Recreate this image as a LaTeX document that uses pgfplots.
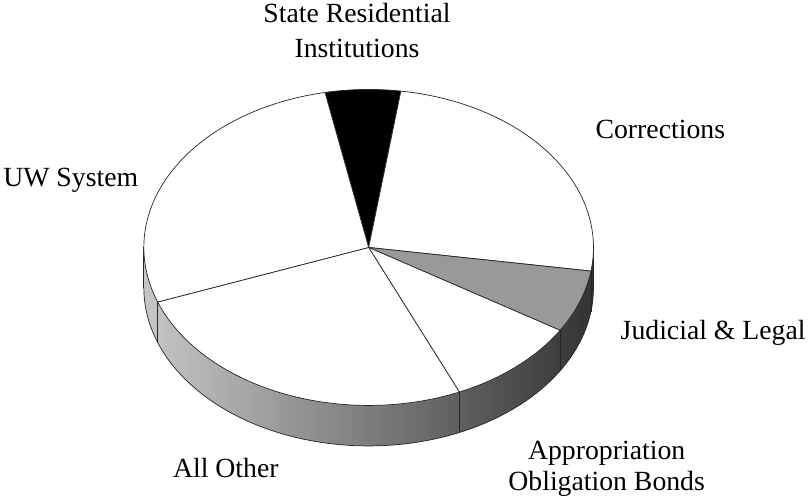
\documentclass[border=0pt]{standalone}
\usepackage{pgfplots}
\usepackage{pgfplotstable}
\pgfplotsset{compat=1.18}
\usepackage{fontspec}
\setmainfont{Liberation Serif}

% share of each slice in percent, clockwise from the top
\pgfplotstableread{
slice       share
SRI         5.4
Corrections 25.1
Judicial    6.4
AOB         9.6
AllOther    26.0
UW          27.5
}\pietable

% pie geometry (pixel units)
\def\cx{370}\def\cy{250}\def\rx{222}\def\ry{156}\def\dep{40}
\def\startangle{101.2}

\pgfmathsetmacro\aZ{\startangle}
\pgfplotstablegetelem{0}{share}\of\pietable \pgfmathsetmacro\aA{\aZ-3.6*\pgfplotsretval}
\pgfplotstablegetelem{1}{share}\of\pietable \pgfmathsetmacro\aB{\aA-3.6*\pgfplotsretval}
\pgfplotstablegetelem{2}{share}\of\pietable \pgfmathsetmacro\aC{\aB-3.6*\pgfplotsretval}
\pgfplotstablegetelem{3}{share}\of\pietable \pgfmathsetmacro\aD{\aC-3.6*\pgfplotsretval}
\pgfplotstablegetelem{4}{share}\of\pietable \pgfmathsetmacro\aE{\aD-3.6*\pgfplotsretval}
\pgfplotstablegetelem{5}{share}\of\pietable \pgfmathsetmacro\aF{\aE-3.6*\pgfplotsretval}

% #1 = lower angle, #2 = upper angle, #3 = fill
\newcommand\sector[3]{%
  \addplot[fill=#3, draw=black!85, line width=0.7pt, domain=#1:#2, samples=80, variable=\t]
    ({\cx+\rx*cos(t)},{\cy-\ry*sin(t)}) -- (\cx,\cy) -- cycle;}
% vertical edge on the side at angle #1
\newcommand\sideedge[1]{%
  \addplot[black!85, line width=0.7pt, domain=0:\dep, samples=2, variable=\s]
    ({\cx+\rx*cos(#1)},{\cy-\ry*sin(#1)+s});}

\begin{document}
\begin{tikzpicture}[every node/.style={font=\fontsize{27.5}{33}\selectfont}]
\begin{axis}[
  width=809bp, height=499bp, scale only axis,
  xmin=0, xmax=809, ymin=0, ymax=499,
  y dir=reverse,
  hide axis, clip=false,
]
  % side of the pie
  \addplot[draw=none, left color=black!22, right color=black!80, domain=180:360, samples=100, variable=\t]
    ({\cx+\rx*cos(t)},{\cy+\dep-\ry*sin(t)}) -- (\cx+\rx,\cy) -- (\cx-\rx,\cy) -- cycle;
  \addplot[black!85, line width=0.7pt, domain=180:360, samples=100, variable=\t]
    ({\cx+\rx*cos(t)},{\cy+\dep-\ry*sin(t)});
  \sideedge{180}
  \sideedge{360}

  % top face
  \sector{\aA}{\aZ}{black}
  \sector{\aB}{\aA}{white}
  \sector{\aC}{\aB}{black!40}
  \sector{\aD}{\aC}{white}
  \sector{\aE}{\aD}{white}
  \sector{\aF}{\aE}{white}

  \sideedge{\aB}
  \sideedge{\aC}
  \sideedge{\aD}
  \sideedge{\aE}

  % labels
  \node[anchor=base] at (358.5,28) {State Residential};
  \node[anchor=base] at (358.5,62) {Institutions};
  \node[anchor=base] at (658,142) {Corrections};
  \node[anchor=base east] at (146,190) {UW System};
  \node[anchor=base east] at (805,341) {Judicial \& Legal};
  \node[anchor=base] at (605,459) {Appropriation};
  \node[anchor=base] at (605,490) {Obligation Bonds};
  \node[anchor=base] at (229,477) {All Other};
\end{axis}
\end{tikzpicture}
\end{document}
